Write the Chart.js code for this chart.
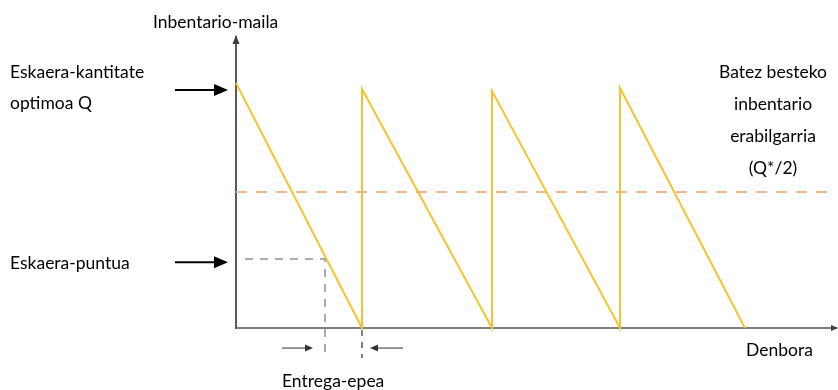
<!DOCTYPE html>
<html>
<head>
<meta charset="utf-8">
<script src="https://cdn.jsdelivr.net/npm/chart.js@4.4.0/dist/chart.umd.min.js"></script>
<style>
  html, body { margin: 0; padding: 0; background: #fff; }
  #wrap { width: 838px; height: 390px; }
</style>
</head>
<body>
<div id="wrap"><canvas id="eoqChart"></canvas></div>
<script>
// Sawtooth inventory level (time units, inventory units)
const cycleTimes = [0, 12.6, 12.6, 25.6, 25.6, 38.4, 38.4, 50.9];
const inventoryLevels = [100, 0, 97.6, 0, 96.7, 0, 98, 0];

// Average inventory line (Q*/2)
const avgTimes = [0, 60];
const avgLevels = [55.5, 55.5];

// Reorder point guide and lead time marker
const reorderTimes = [0.9, 8.9, 8.9];
const reorderLevels = [28.2, 28.2, -12.2];
const arrivalTimes = [12.6, 12.6];
const arrivalLevels = [-0.8, -12.2];

const labelsLeft = ['Eskaera-kantitate', 'optimoa Q'];
const labelRight = ['Batez besteko', 'inbentario', 'erabilgarria', '(Q*/2)'];

function toPoints(xs, ys) {
    return xs.map((x, i) => ({ x: x, y: ys[i] }));
}

Chart.defaults.font.family = 'Lato, "Open Sans", sans-serif';

function arrow(ctx, x1, y1, x2, y2, head, half) {
    const ang = Math.atan2(y2 - y1, x2 - x1);
    ctx.beginPath();
    ctx.moveTo(x1, y1);
    ctx.lineTo(x2 - Math.cos(ang) * head * 0.8, y2 - Math.sin(ang) * head * 0.8);
    ctx.stroke();
    ctx.beginPath();
    ctx.moveTo(x2, y2);
    ctx.lineTo(x2 - Math.cos(ang) * head - Math.sin(ang) * half, y2 - Math.sin(ang) * head + Math.cos(ang) * half);
    ctx.lineTo(x2 - Math.cos(ang) * head + Math.sin(ang) * half, y2 - Math.sin(ang) * head - Math.cos(ang) * half);
    ctx.closePath();
    ctx.fill();
}

// texts and arrows around the plot
const decorations = {
    id: 'decorations',
    afterDraw(chart) {
        const ctx = chart.ctx;
        const xs = chart.scales.x, ys = chart.scales.y;
        const area = chart.chartArea;
        ctx.save();

        // axis arrowheads
        ctx.fillStyle = '#404040';
        ctx.beginPath();
        ctx.moveTo(area.left, area.top - 2);
        ctx.lineTo(area.left - 3.5, area.top + 7);
        ctx.lineTo(area.left + 3.5, area.top + 7);
        ctx.closePath();
        ctx.fill();
        ctx.beginPath();
        ctx.moveTo(area.right + 2, area.bottom);
        ctx.lineTo(area.right - 5, area.bottom - 3);
        ctx.lineTo(area.right - 5, area.bottom + 3);
        ctx.closePath();
        ctx.fill();

        ctx.fillStyle = '#000';
        ctx.font = '17.5px Lato, "Open Sans", sans-serif';
        ctx.textBaseline = 'middle';
        ctx.textAlign = 'left';
        ctx.fillText('Inbentario-maila', 153, 22);
        ctx.fillText(labelsLeft[0], 10, 72);
        ctx.fillText(labelsLeft[1], 10, 103);
        ctx.fillText('Eskaera-puntua', 10, 263);
        ctx.fillText('Denbora', 746, 350);
        ctx.fillText('Entrega-epea', 282, 381);
        ctx.textAlign = 'center';
        labelRight.forEach((t, i) => ctx.fillText(t, 773, 72 + i * 32));

        // pointer arrows
        ctx.strokeStyle = '#000';
        ctx.fillStyle = '#000';
        ctx.lineWidth = 2;
        arrow(ctx, 175, ys.getPixelForValue(97.2), area.left - 8, ys.getPixelForValue(97.2), 14, 6);
        arrow(ctx, 175, ys.getPixelForValue(26.8), area.left - 8, ys.getPixelForValue(26.8), 14, 6);

        // lead time arrows
        ctx.strokeStyle = '#333';
        ctx.fillStyle = '#333';
        ctx.lineWidth = 1;
        const ay = ys.getPixelForValue(-8.2);
        arrow(ctx, xs.getPixelForValue(4.6), ay, xs.getPixelForValue(7.7), ay, 8, 3.5);
        arrow(ctx, xs.getPixelForValue(16.7), ay, xs.getPixelForValue(13.4), ay, 8, 3.5);
        ctx.restore();
    }
};

const ctxEoq = document.getElementById('eoqChart').getContext('2d');
const eoqChart = new Chart(ctxEoq, {
    type: 'line',
    data: {
        datasets: [{
            label: 'Inbentario-maila',
            data: toPoints(cycleTimes, inventoryLevels),
            borderColor: '#F4C430',
            borderWidth: 2,
            pointRadius: 0,
            tension: 0,
            clip: false
        }, {
            label: 'Q*/2',
            data: toPoints(avgTimes, avgLevels),
            borderColor: '#F2B48A',
            borderWidth: 2,
            borderDash: [11, 9],
            pointRadius: 0,
            clip: false
        }, {
            label: 'Eskaera-puntua',
            data: toPoints(reorderTimes, reorderLevels),
            borderColor: '#ABABAB',
            borderWidth: 2,
            borderDash: [8, 7],
            pointRadius: 0,
            clip: false
        }, {
            label: 'Iritsiera',
            data: toPoints(arrivalTimes, arrivalLevels),
            borderColor: '#555555',
            borderWidth: 1.5,
            borderDash: [6, 6],
            pointRadius: 0,
            clip: false
        }]
    },
    options: {
        responsive: true,
        maintainAspectRatio: false,
        animation: false,
        layout: { padding: { left: 236, right: 2, top: 37, bottom: 62 } },
        plugins: {
            legend: { display: false },
            tooltip: { enabled: false }
        },
        scales: {
            x: {
                type: 'linear',
                min: 0,
                max: 60,
                grid: { display: false, drawTicks: false },
                ticks: { display: false },
                border: { display: true, color: '#7F7F7F', width: 2 }
            },
            y: {
                min: 0,
                max: 118.8,
                grid: { display: false, drawTicks: false },
                ticks: { display: false },
                border: { display: true, color: '#595959', width: 2 }
            }
        }
    },
    plugins: [decorations]
});
</script>
</body>
</html>
